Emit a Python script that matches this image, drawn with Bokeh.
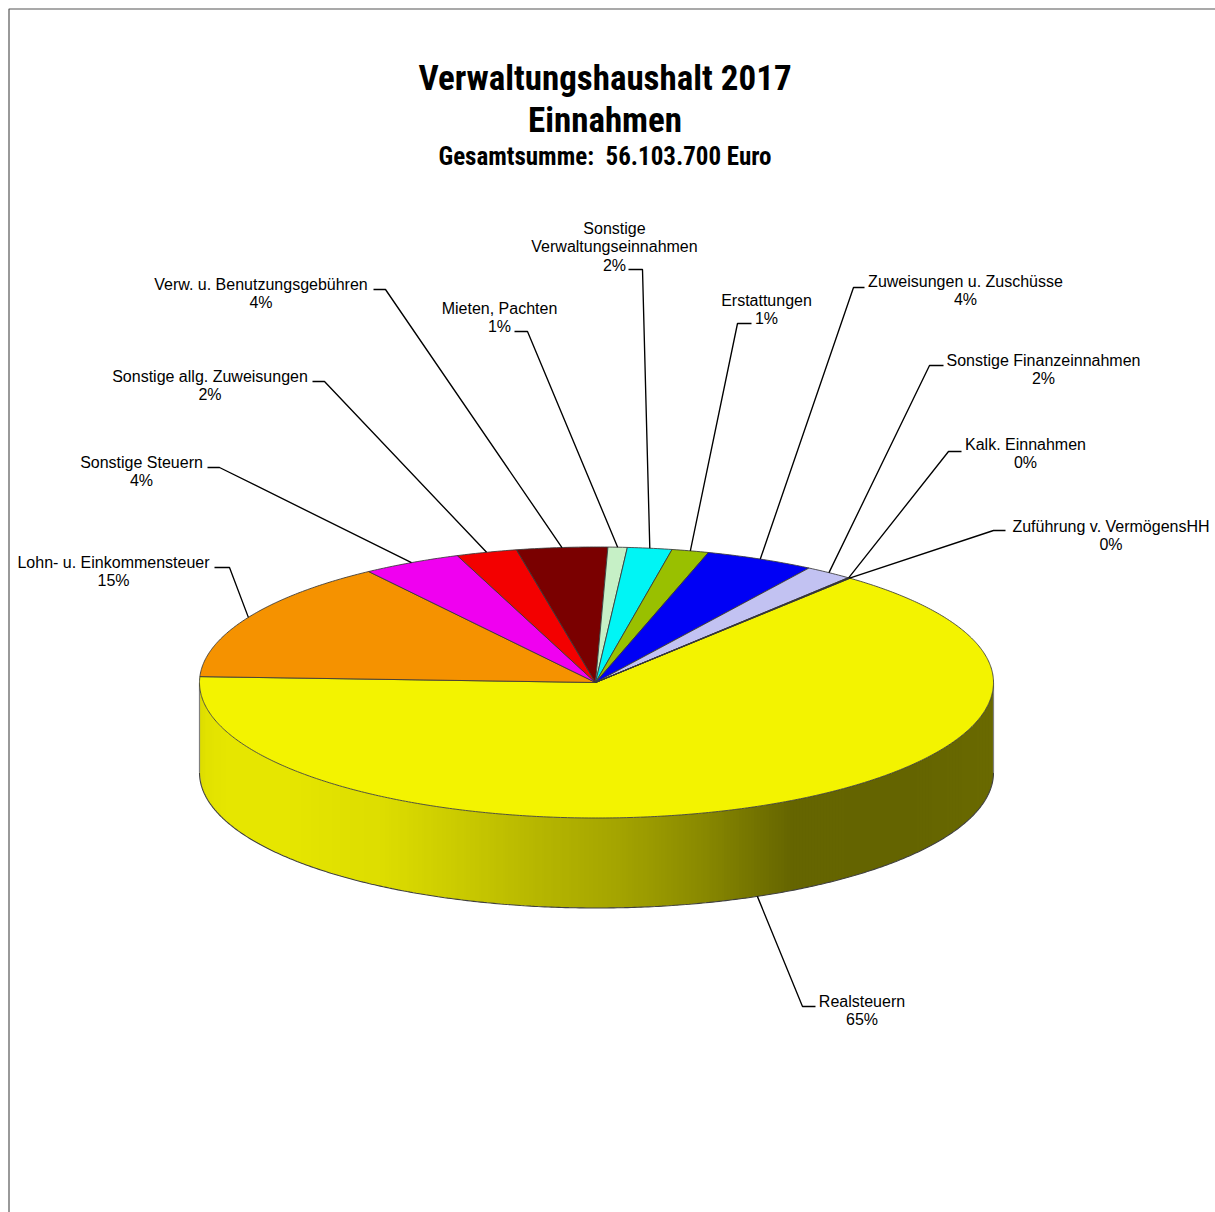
import numpy as np
from bokeh.plotting import figure
from bokeh.embed import file_html
from bokeh.resources import INLINE
from bokeh.core.properties import value

# ---- data ----
CATEGORIES = ["Realsteuern", "Lohn- u. Einkommensteuer", "Sonstige Steuern",
              "Sonstige allg. Zuweisungen", "Verw. u. Benutzungsgebühren", "Mieten, Pachten",
              "Sonstige Verwaltungseinnahmen", "Erstattungen", "Zuweisungen u. Zuschüsse",
              "Sonstige Finanzeinnahmen", "Kalk. Einnahmen", "Zuführung v. VermögensHH"]
SHARES = [64.67, 14.58, 4.03, 2.47, 3.69, 0.78, 1.81, 1.5, 4.44, 1.94, 0.05, 0.05]
PERCENT_LABELS = ["65%", "15%", "4%", "2%", "4%", "1%", "2%", "1%", "4%", "2%", "0%", "0%"]
TITLE_LINES = ["Verwaltungshaushalt 2017", "Einnahmen"]
SUBTITLE = "Gesamtsumme:\u00a0 56.103.700 Euro"

# ---- styles and layout ----
COLORS = ["#F3F300", "#F59200", "#F000F0", "#F30000", "#7A0000", "#C6F0C6",
          "#00F5F5", "#99C000", "#0000F5", "#C2C2F2", "#202020", "#202020"]
LABEL_LINES = [["Realsteuern"], ["Lohn- u. Einkommensteuer"], ["Sonstige Steuern"],
               ["Sonstige allg. Zuweisungen"], ["Verw. u. Benutzungsgebühren"], ["Mieten, Pachten"],
               ["Sonstige", "Verwaltungseinnahmen"], ["Erstattungen"], ["Zuweisungen u. Zuschüsse"],
               ["Sonstige Finanzeinnahmen"], ["Kalk. Einnahmen"], ["Zuführung v. VermögensHH"]]
LABEL_X = [861.5, 113, 141, 209.5, 260.5, 499, 614, 766, 965, 1043, 1025, 1110.5]
LABEL_TOP = [1001, 562, 462, 376, 284, 308, 228, 300, 281, 360, 444, 526]
ELBOW = [(802, 1006), (229, 567), (219, 467), (324, 381), (385, 289), (527, 331),
         (642, 269), (737, 323), (853, 287), (929, 365), (948, 451), (993, 530)]
LEADER_END = [815, 214, 207, 312, 373, 514, 628, 751, 864, 943, 961, 1005]

CX, CY, RX, RY, DEPTH = 596.0, 682.0, 397.0, 135.5, 90.0
START_DEG = 50.3
SIDE_STOPS_X = [199, 206, 225, 290, 350, 380, 470, 540, 620, 700, 760, 790, 900, 993]
SIDE_STOPS_V = [0xDC, 0xE2, 0xE6, 0xE6, 0xE0, 0xDE, 0xC8, 0xB6, 0xA4, 0x8A, 0x72, 0x66, 0x64, 0x6A]

p = figure(width=1215, height=1212, x_range=(0, 1215), y_range=(1212, 0),
           output_backend="svg", toolbar_location=None, min_border=0)
p.axis.visible = False
p.grid.visible = False
p.outline_line_color = None
p.background_fill_color = "white"
p.border_fill_color = "white"

# page frame (only top and left edges lie in the window)
p.line([8.5, 8.5, 1215], [1212, 8.5, 8.5], line_color="#555555", line_width=1.2)

def ellipse_xy(t_deg):
    t = np.radians(t_deg)
    return CX + RX * np.cos(t), CY - RY * np.sin(t)

# side wall: vertical gradient strips
edges = np.arange(CX - RX, CX + RX + 3, 3.0)
xs, ys, cols = [], [], []
for a, b in zip(edges[:-1], edges[1:]):
    b2 = min(b + 1, CX + RX)
    xx = np.linspace(a, b2, 4)
    top = CY + RY * np.sqrt(np.clip(1 - ((xx - CX) / RX) ** 2, 0, 1))
    xs.append(list(xx) + list(xx[::-1]))
    ys.append(list(top) + list((top + DEPTH)[::-1]))
    v = int(np.interp((a + b) / 2, SIDE_STOPS_X, SIDE_STOPS_V))
    cols.append("#%02X%02X00" % (v, v))
p.patches(xs, ys, fill_color=cols, line_color=None)

# side outline
tt = np.linspace(180, 360, 361)
ex, ey = ellipse_xy(tt)
p.line(list(ex), list(ey + DEPTH), line_color="#404040", line_width=1.1)
p.line([CX - RX, CX - RX], [CY, CY + DEPTH], line_color="#808080", line_width=1.2)
p.line([CX + RX, CX + RX], [CY, CY + DEPTH], line_color="#808080", line_width=1.2)

# top slices, clockwise from START_DEG, sized by the shares
shares = np.array(SHARES, dtype=float)
sweep = shares / shares.sum() * 360.0
bounds = START_DEG - np.concatenate([[0], np.cumsum(sweep)])
xs, ys = [], []
for t0, t1 in zip(bounds[:-1], bounds[1:]):
    ang = np.linspace(t0, t1, max(3, int(abs(t0 - t1) * 2)))
    ax, ay = ellipse_xy(ang)
    xs.append([CX - 1] + list(ax))
    ys.append([CY] + list(ay))
p.patches(xs, ys, fill_color=COLORS, line_color="#383838", line_width=1, line_alpha=0.85)

# leader lines: from slice middle to elbow to text
mids = (bounds[:-1] + bounds[1:]) / 2
for m, el, end in zip(mids, ELBOW, LEADER_END):
    ax, ay = ellipse_xy(m)
    if np.sin(np.radians(m)) < 0:
        ay = ay + DEPTH
    p.line([ax, el[0], end], [ay, el[1], el[1]], line_color="black", line_width=1.35)

# labels
tx, ty, tt_ = [], [], []
for lines, pct, x, top in zip(LABEL_LINES, PERCENT_LABELS, LABEL_X, LABEL_TOP):
    for i, s in enumerate(lines + [pct]):
        tx.append(x); ty.append(top + i * 18.4); tt_.append(s)
p.text(tx, ty, text=tt_, text_font=value("Liberation Sans"), text_font_size="16px",
       text_align="center", text_baseline="middle", text_color="black")

# titles
p.text([604.5, 604.5], [78, 120], text=TITLE_LINES, text_font=value("Roboto Condensed"),
       text_font_size="35px", text_font_style="bold", text_align="center",
       text_baseline="middle", text_color="black")
p.text([604.5], [156], text=[SUBTITLE], text_font=value("Roboto Condensed"),
       text_font_size="25px", text_font_style="bold", text_align="center",
       text_baseline="middle", text_color="black")

open("out.html", "w").write(file_html(p, INLINE))
